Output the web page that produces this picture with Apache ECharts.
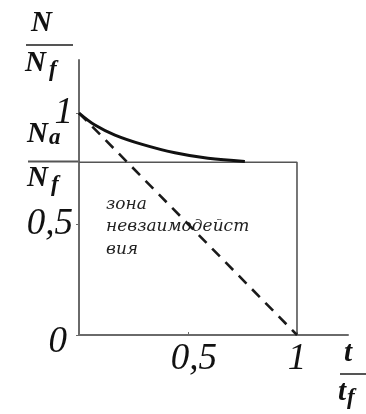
<!DOCTYPE html>
<html>
<head>
<meta charset="utf-8">
<script src="https://cdn.jsdelivr.net/npm/echarts@6/dist/echarts.min.js"></script>
<style>
  html, body { margin: 0; padding: 0; background: #ffffff; }
  #chart { width: 366px; height: 414px; }
</style>
</head>
<body>
<div id="chart"></div>
<script>
// Relative time t/t_f and relative count N/N_f along the decay curve
const curveT = [0, 0.073, 0.165, 0.29, 0.44, 0.592, 0.761];
const curveN = [1.0, 0.946, 0.901, 0.859, 0.821, 0.796, 0.782];

// Straight dashed decline from (0, 1) to (1, 0)
const lineT = [0, 1];
const lineN = [1, 0];

// Level N_a/N_f bounding the non-interaction zone
const levelNa = 0.778;
const zoneT = [0, 1, 1];
const zoneN = [levelNa, levelNa, 0];

// Tick labels
const xTickValues = [0.5, 1];
const xTickTexts = ['{h|0,5}', '1'];
const yTickValues = [0, 0.5, 1];
const yTickTexts = ['{z|0}', '0,5', '1'];

const zoneText = ['зона', 'невзаимодейст', 'вия'];

const zip = (a, b) => a.map((v, i) => [v, b[i]]);
const pickLabel = (vals, texts) => v => {
  const i = vals.findIndex(x => Math.abs(x - v) < 1e-6);
  return i >= 0 ? texts[i] : '';
};

const serif = '"Liberation Serif", "Times New Roman", serif';
const axisColor = '#6a6a6a';
const bigFont = 'italic bold 29px ' + serif;
const subFont = 'italic bold 23px ' + serif;
const tickStyle = { fontFamily: serif, fontStyle: 'italic', fontSize: 37, color: '#111' };

const chart = echarts.init(document.getElementById('chart'));
chart.setOption({
  backgroundColor: '#ffffff',
  animation: false,
  grid: { left: 79, right: 18, top: 60, bottom: 79 },
  xAxis: {
    type: 'value', min: 0, max: 1.234, interval: 0.5,
    axisLine: { show: true, lineStyle: { color: axisColor, width: 2 } },
    axisTick: { show: true, inside: true, length: 3, lineStyle: { color: axisColor } },
    splitLine: { show: false },
    axisLabel: Object.assign({
      formatter: pickLabel(xTickValues, xTickTexts),
      margin: 6, showMaxLabel: false,
      rich: { h: Object.assign({ padding: [0, 0, 0, 12] }, tickStyle) }
    }, tickStyle)
  },
  yAxis: {
    type: 'value', min: 0, max: 1.239, interval: 0.5,
    axisLine: { show: true, lineStyle: { color: axisColor, width: 2 } },
    axisTick: { show: true, length: 3, lineStyle: { color: axisColor } },
    splitLine: { show: false },
    axisLabel: Object.assign({
      formatter: pickLabel(yTickValues, yTickTexts),
      margin: 6, showMaxLabel: false,
      rich: { z: Object.assign({ padding: [14, 6, 0, 0] }, tickStyle) }
    }, tickStyle)
  },
  series: [
    {
      type: 'line', data: zip(zoneT, zoneN), symbol: 'none',
      lineStyle: { color: '#555', width: 1.6 }, z: 2
    },
    {
      type: 'line', data: zip(lineT, lineN), symbol: 'none',
      lineStyle: { color: '#1a1a1a', width: 2.6, type: [11, 8] }, z: 3
    },
    {
      type: 'line', data: zip(curveT, curveN), symbol: 'none', smooth: 0.35,
      lineStyle: { color: '#111', width: 3 }, z: 4
    }
  ],
  graphic: [
    // N / N_f
    { type: 'text', left: 31, top: 9,
      style: { text: 'N', font: bigFont, fill: '#111' } },
    { type: 'line', shape: { x1: 26, y1: 45, x2: 73, y2: 45 },
      style: { stroke: '#555', lineWidth: 2 } },
    { type: 'text', left: 25, top: 49,
      style: { text: '{n|N}{s|f}',
        rich: {
          n: { font: bigFont, fill: '#111' },
          s: { font: subFont, fill: '#111', padding: [14, 0, 0, 3] }
        } } },
    // N_a / N_f
    { type: 'text', left: 27, top: 120,
      style: { text: '{n|N}{s|a}',
        rich: {
          n: { font: bigFont, fill: '#111' },
          s: { font: subFont, fill: '#111', padding: [8, 0, 0, 1] }
        } } },
    { type: 'line', shape: { x1: 28, y1: 161.5, x2: 79, y2: 161.5 },
      style: { stroke: '#555', lineWidth: 2 } },
    { type: 'text', left: 27, top: 164,
      style: { text: '{n|N}{s|f}',
        rich: {
          n: { font: bigFont, fill: '#111' },
          s: { font: subFont, fill: '#111', padding: [14, 0, 0, 3] }
        } } },
    // t / t_f
    { type: 'text', left: 344, top: 339,
      style: { text: 't', font: bigFont, fill: '#111' } },
    { type: 'line', shape: { x1: 340, y1: 374, x2: 366, y2: 374 },
      style: { stroke: '#555', lineWidth: 2 } },
    { type: 'text', left: 338, top: 378,
      style: { text: '{n|t}{s|f}',
        rich: {
          n: { font: bigFont, fill: '#111' },
          s: { font: subFont, fill: '#111', padding: [12, 0, 0, 1] }
        } } },
    // zone caption
    { type: 'text', left: 106, top: 193,
      style: { text: zoneText.join('\n'), font: 'italic 17px "DejaVu Serif", serif',
        fill: '#222', lineHeight: 22.5 } }
  ]
});
</script>
</body>
</html>
